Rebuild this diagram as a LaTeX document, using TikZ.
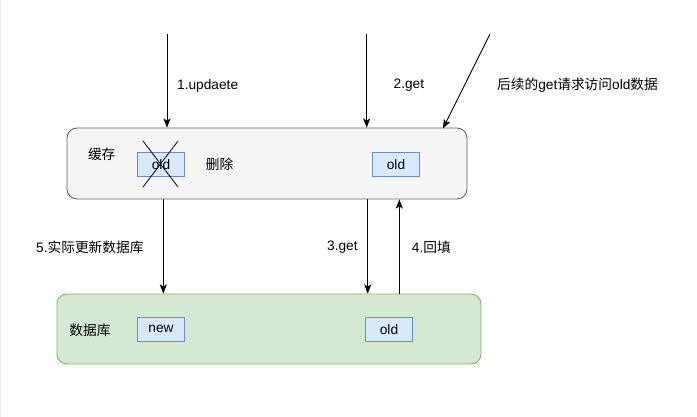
\documentclass[tikz,border=0pt]{standalone}
\usepackage{fontspec}
\setmainfont{Liberation Sans}
\newfontfamily\cjk{Noto Sans CJK SC}
\usetikzlibrary{arrows.meta}
\definecolor{cachefill}{HTML}{F5F5F5}
\definecolor{cachedraw}{HTML}{666666}
\definecolor{dbfill}{HTML}{D5E8D4}
\definecolor{dbdraw}{HTML}{82B366}
\definecolor{itemfill}{HTML}{DAE8FC}
\definecolor{itemdraw}{HTML}{6C8EBF}
\begin{document}
\begin{tikzpicture}[x=1pt,y=-1pt,
  every node/.style={font=\fontsize{13.7}{16}\selectfont, inner sep=0pt},
  layer/.style={draw, rounded corners=10pt, line width=0.9pt, minimum height=71pt},
  cachebox/.style={layer, fill=cachefill, draw=cachedraw, minimum width=400pt},
  dbbox/.style={layer, fill=dbfill, draw=dbdraw, minimum width=424pt, minimum height=70pt},
  item/.style={draw=itemdraw, fill=itemfill, line width=0.9pt, minimum width=47pt, minimum height=24pt},
  arr/.style={line width=0.9pt, -{Stealth[length=9pt,width=7pt,inset=2pt]}},
  lbl/.style={anchor=west}
]
\useasboundingbox[fill=white] (0,0) rectangle (697,417);
\draw[black!8, line width=1pt] (0.5,0) -- (0.5,417);

% layers
\node[cachebox] (cache) at (267,163.5) {};
\node[dbbox] (db) at (269,329) {};

% items
\node[item] (oldA) at (161,164.5) {old};
\node[item] (oldB) at (396,164.5) {old};
\node[item] (new) at (161,329.3) {new};
\node[item] (oldC) at (389,329.3) {old};

% cross over deleted item
\coordinate (xa) at (143,141);
\coordinate (xb) at (178,187);
\coordinate (xc) at (178,141);
\coordinate (xd) at (143,187);
\draw[line width=0.8pt] (xa) -- (xb);
\draw[line width=0.8pt] (xc) -- (xd);

% texts
\node (tcache) at (101.7,154) {\cjk 缓存};
\node (tdel) at (219.5,164.5) {\cjk 删除};
\node (tdb) at (90,330) {\cjk 数据库};

% incoming arrows
\coordinate (s1) at (167,34);
\coordinate (s2) at (366.7,34);
\coordinate (s3) at (490,34);
\coordinate (t3) at (443,128.5);
\draw[arr] (s1) -- (s1 |- cache.north);
\draw[arr] (s2) -- (s2 |- cache.north);
\draw[arr] (s3) -- (t3);
\node[lbl] (l1) at (177,85.5) {1.updaete};
\node[lbl] (l2) at (393.5,85.5) {2.get};
\node[lbl] (l3) at (497,85.5) {{\cjk 后续的}get{\cjk 请求访问}old{\cjk 数据}};

% cache <-> db arrows
\coordinate (c5) at (163.3,0);
\coordinate (c3) at (367.7,0);
\coordinate (c4) at (399.3,0);
\draw[arr] (c5 |- cache.south) -- (c5 |- db.north);
\draw[arr] (c3 |- cache.south) -- (c3 |- db.north);
\draw[arr] (c4 |- db.north) -- (c4 |- cache.south);
\node[lbl] (l5) at (36,247) {5.{\cjk 实际更新数据库}};
\node[lbl] (l3g) at (327,247) {3.get};
\node[lbl] (l4) at (411.7,247) {4.{\cjk 回填}};
\end{tikzpicture}
\end{document}
